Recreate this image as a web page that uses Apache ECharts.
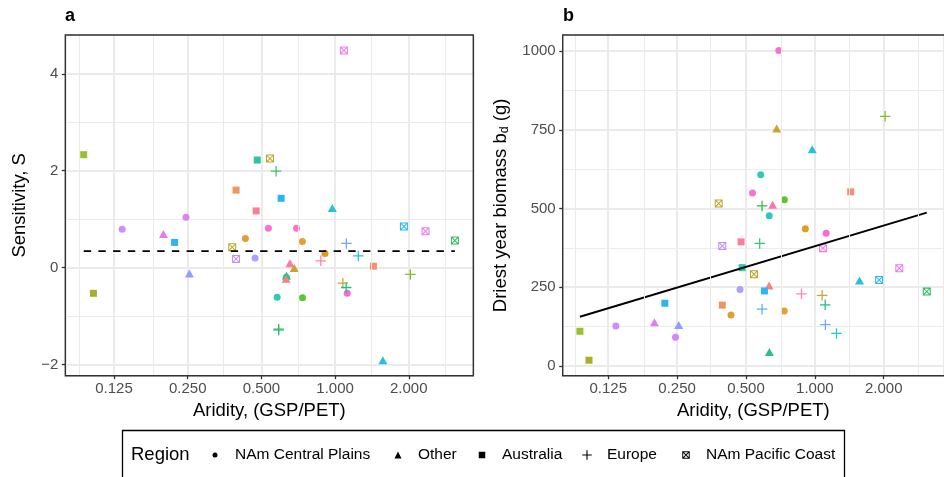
<!DOCTYPE html>
<html><head><meta charset="utf-8">
<script src="https://cdn.jsdelivr.net/npm/echarts@6/dist/echarts.min.js"></script>
<style>html,body{margin:0;padding:0;background:#fff}#c{width:944px;height:477px}</style>
</head><body><div id="c"></div>
<script>
// ---- data (one entry per site) ----
const siteRegion = ['Australia','Australia','NAm Central Plains','Other','NAm Central Plains','Australia','Other','Australia','NAm Pacific Coast','Europe',
  'Australia','Australia','Australia','Other','NAm Central Plains','NAm Central Plains','NAm Central Plains','NAm Central Plains','NAm Pacific Coast','NAm Pacific Coast',
  'NAm Central Plains','NAm Central Plains','Europe','Other','Other','Other','Other','NAm Central Plains','NAm Central Plains','Europe',
  'Europe','NAm Pacific Coast','NAm Pacific Coast','NAm Pacific Coast','NAm Pacific Coast','Europe','Europe','Australia','Europe','Europe',
  'Europe','NAm Central Plains','Other','NAm Central Plains'];
const aridity = [0.094,0.103,0.135,0.199,0.246,0.221,0.254,0.481,0.542,0.574,
  0.394,0.602,0.476,0.974,0.534,0.696,0.430,0.735,0.380,0.394,
  0.471,0.909,0.874,0.654,0.681,0.633,0.631,0.580,0.736,0.588,
  0.588,1.086,1.910,2.340,3.085,1.112,1.244,1.434,2.030,1.076,
  1.110,1.121,1.568,0.632];
const sensitivity = [2.33,-0.53,0.79,0.695,1.04,0.52,-0.12,2.22,2.25,1.99,
  1.60,1.43,1.17,1.23,0.81,0.81,0.60,0.54,0.42,0.18,
  0.20,0.29,0.14,0.09,-0.01,-0.17,-0.23,-0.61,-0.62,-1.29,
  -1.27,4.48,0.85,0.75,0.56,0.50,0.24,0.03,-0.14,-0.32,
  -0.41,-0.53,-1.91,-0.20];
const driestBiomass = [110,18,127,139,91,199,130,312,291,389,
  193,238,394,688,549,1002,162,174,516,381,
  243,436,229,512,754,44,255,607,528,180,
  508,374,273,310,236,131,103,553,793,224,
  194,421,271,477];
const siteColors = ['#9ABF2F','#A8B02A','#D08CF7','#E47CEE','#DB83F5','#2FB5EE','#8C9EFF','#2CC5A2','#B5A827','#3AC27C',
  '#F0955F','#29B6F6','#FD7D9A','#26C2DC','#FA71CF','#FF6FC4','#DDA034','#E3A12F','#BBAA2A','#C28FFC',
  '#A9A1FF','#E8981F','#FF86A9','#FF76A8','#CBA230','#22C38A','#F8837A','#30CBB8','#5FC336','#4DB1F7',
  '#2DBD47','#F47AE9','#27BBEA','#EC7AEE','#2EBC5D','#6FA6FF','#22C5D0','#F5906F','#86BC28','#C8A43C',
  '#1DC27D','#F76AD5','#22C1D8','#2EC9BB'];
const regions = ['NAm Central Plains','Other','Australia','Europe','NAm Pacific Coast'];
const meanSensitivity = 0.34;          // dashed reference line, panel a
const fitBiomassEnds = [156, 487];     // regression line ends, panel b
const xMinorGrid = [0.0884, 0.1768, 0.3536, 0.7071, 1.4142, 2.8284];
const xRange = [0.07906, 3.669];
const yRangeA = [-2.23, 4.80];
const yRangeB = [-31.2, 1051.2];

// ---- styling ----
const FONT = 'Liberation Sans, Arial, Helvetica, sans-serif';
const PLUS = 'path://M4.4,0 H5.6 V4.4 H10 V5.6 H5.6 V10 H4.4 V5.6 H0 V4.4 H4.4 Z';
const BOXX = 'path://M0,0 L10,0 L10,10 L0,10 Z M1.3,1.3 L1.3,8.7 L8.7,8.7 L8.7,1.3 Z M1,1.9 L1.9,1 L9,8.1 L8.1,9 Z M8.1,1 L9,1.9 L1.9,9 L1,8.1 Z';
const regionSymbol = {
  'NAm Central Plains': ['circle', 7, 5],
  'Other': ['triangle', [9, 8], 7],
  'Australia': ['rect', 7, 6.5],
  'Europe': [PLUS, 10.5, 9.5],
  'NAm Pacific Coast': [BOXX, 8, 7.5]
};
const legendCenters = [215, 398, 482, 587, 686];
const gridA = {left: 65.3, top: 35, width: 408, height: 340.7};
const gridB = {left: 562.7, top: 35, width: 391.4, height: 340.7};

const minX = Math.min(...aridity), maxX = Math.max(...aridity);

function xAxisCfg(gi) {
  return {
    type: 'log', logBase: 2, gridIndex: gi, min: xRange[0], max: xRange[1],
    name: 'Aridity, (GSP/PET)', nameLocation: 'middle', nameGap: 25,
    nameTextStyle: {fontFamily: FONT, fontSize: 18.5, color: '#000'},
    axisLine: {show: false, onZero: false},
    axisTick: {show: true, length: 3.5, lineStyle: {color: '#333', width: 1.3}},
    axisLabel: {fontFamily: FONT, fontSize: 15, color: '#4D4D4D', margin: 6,
      showMinLabel: false, showMaxLabel: false,
      formatter: v => Number(v).toFixed(3)},
    splitLine: {show: true, lineStyle: {color: '#EBEBEB', width: 2}},
    minorSplitLine: {show: false}
  };
}
function yAxisCfg(gi, range, step, nameCfg, gap, fmt) {
  return Object.assign({
    type: 'value', gridIndex: gi, min: range[0], max: range[1],
    minInterval: step, maxInterval: step, splitNumber: 4,
    nameLocation: 'middle', nameGap: gap,
    axisLine: {show: false, onZero: false},
    axisTick: {show: true, length: 3.5, lineStyle: {color: '#333', width: 1.3}},
    axisLabel: {fontFamily: FONT, fontSize: 15, color: '#4D4D4D', margin: 7,
      showMinLabel: false, showMaxLabel: false, formatter: fmt},
    splitLine: {show: true, lineStyle: {color: '#EBEBEB', width: 2}},
    minorTick: {show: false, splitNumber: 2},
    minorSplitLine: {show: true, lineStyle: {color: '#EBEBEB', width: 1}}
  }, nameCfg);
}

const series = [];
// minor x gridlines for both panels
[0, 1].forEach(gi => {
  series.push({
    type: 'line', xAxisIndex: gi, yAxisIndex: gi, data: [], z: 1, silent: true,
    markLine: {silent: true, symbol: ['none', 'none'], label: {show: false}, animation: false,
      lineStyle: {color: '#EBEBEB', width: 1, type: 'solid'},
      emphasis: {disabled: true},
      data: xMinorGrid.map(v => ({xAxis: v}))}
  });
});
[0, 1].forEach(gi => {
  const yVals = gi === 0 ? sensitivity : driestBiomass;
  regions.forEach(r => {
    const sym = regionSymbol[r];
    const data = [];
    aridity.forEach((x, i) => {
      if (siteRegion[i] === r) data.push({value: [x, yVals[i]], itemStyle: {color: siteColors[i]}});
    });
    series.push({
      name: r, type: 'scatter', xAxisIndex: gi, yAxisIndex: gi, z: 2,
      symbol: sym[0], symbolSize: sym[1], symbolKeepAspect: false,
      itemStyle: {opacity: 1}, data: data, emphasis: {disabled: true}
    });
  });
});
series.push({
  type: 'line', xAxisIndex: 0, yAxisIndex: 0, z: 3, silent: true, symbol: 'none',
  lineStyle: {color: '#000', width: 1.9, type: [7.4, 7.3]},
  data: [[minX, meanSensitivity], [maxX, meanSensitivity]]
});
series.push({
  type: 'line', xAxisIndex: 1, yAxisIndex: 1, z: 3, silent: true, symbol: 'none',
  lineStyle: {color: '#000', width: 1.9, type: 'solid'},
  data: [[minX, fitBiomassEnds[0]], [maxX, fitBiomassEnds[1]]]
});

const legends = regions.map((r, i) => {
  const s = regionSymbol[r][2];
  return {
    show: true, orient: 'horizontal', left: legendCenters[i] - s / 2, top: 446, padding: 0,
    itemWidth: s, itemHeight: s, itemGap: 0, selectedMode: false, symbolKeepAspect: true,
    textStyle: {fontFamily: FONT, fontSize: 15.5, color: '#000', lineHeight: 18,
      padding: [0, 0, 0, 15 - s / 2]},
    itemStyle: {color: '#000', borderWidth: 0},
    data: [{name: r, icon: regionSymbol[r][0], itemStyle: {color: '#000'}}]
  };
});

function borderRect(g) {
  return {type: 'rect', z: 100, silent: true,
    shape: {x: g.left, y: g.top, width: g.width, height: g.height},
    style: {fill: 'none', stroke: '#333', lineWidth: 1.4}};
}

const option = {
  animation: false,
  backgroundColor: '#fff',
  grid: [
    Object.assign({show: false}, gridA),
    Object.assign({show: false}, gridB)
  ],
  xAxis: [xAxisCfg(0), xAxisCfg(1)],
  yAxis: [
    yAxisCfg(0, yRangeA, 2, {name: 'Sensitivity, S',
      nameTextStyle: {fontFamily: FONT, fontSize: 18.5, color: '#000'}}, 36,
      v => String(v).replace('-', '\u2212')),
    yAxisCfg(1, yRangeB, 250, {name: '{m|Driest year biomass b}{s|d}{m| (g)}',
      nameTextStyle: {fontFamily: FONT, fontSize: 18.5, color: '#000',
        rich: {m: {fontFamily: FONT, fontSize: 18.5, color: '#000', lineHeight: 20},
               s: {fontFamily: FONT, fontSize: 12.5, color: '#000', lineHeight: 20, verticalAlign: 'bottom', padding: [6, 0, 0, 0]}}}}, 52,
      v => String(v))
  ],
  legend: legends,
  series: series,
  graphic: [
    borderRect(gridA),
    borderRect(gridB),
    {type: 'text', left: 65, top: 7, style: {text: 'a', fontFamily: FONT, fontSize: 18, fontWeight: 'bold', fill: '#000'}},
    {type: 'text', left: 563, top: 7, style: {text: 'b', fontFamily: FONT, fontSize: 18, fontWeight: 'bold', fill: '#000'}},
    {type: 'rect', shape: {x: 122.5, y: 430.5, width: 722, height: 70}, style: {fill: 'none', stroke: '#000', lineWidth: 1.3}, silent: true},
    {type: 'text', left: 131, top: 445, style: {text: 'Region', fontFamily: FONT, fontSize: 18.5, fill: '#000'}}
  ]
};
const chart = echarts.init(document.getElementById('c'), null, {renderer: 'canvas'});
chart.setOption(option);
</script></body></html>
